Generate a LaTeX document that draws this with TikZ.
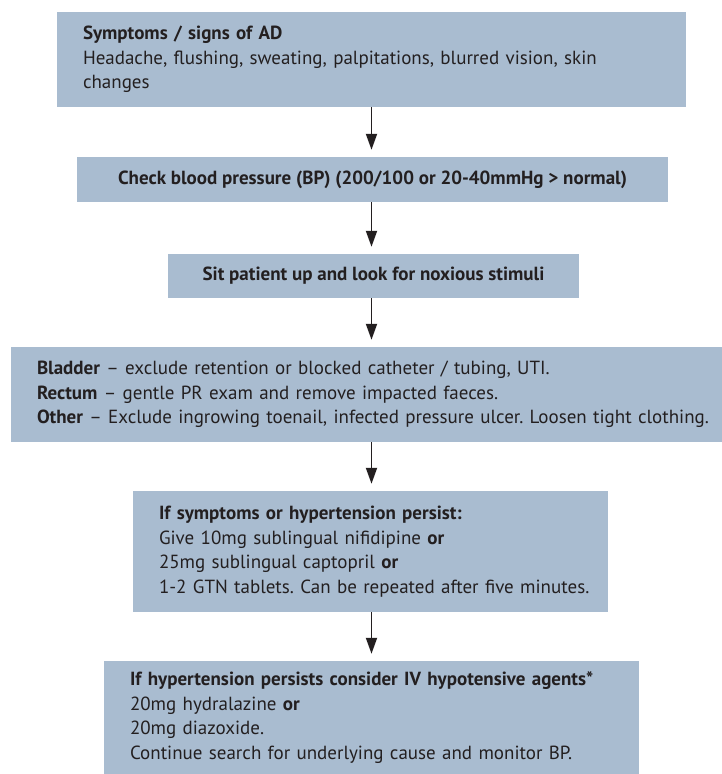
\documentclass[tikz,border=0pt]{standalone}
\usepackage{fontspec}
\setmainfont{PT Sans}
\usetikzlibrary{arrows.meta}
\definecolor{ink}{HTML}{231F20}
\definecolor{boxblue}{HTML}{A9BCD0}
\newcommand{\lines}[1]{\begin{tabular}{@{}l@{}}#1\end{tabular}}
\tikzset{
  stepbox/.style={fill=boxblue,text=ink,inner xsep=26pt,inner ysep=0pt,
    font=\fontsize{19}{24.5}\selectfont\frenchspacing},
  listbox/.style={stepbox,align=left},
  flow/.style={-{Triangle[length=16pt,width=11pt]},draw=ink,line width=1.8pt,shorten >=7pt},
}

\begin{document}
\begin{tikzpicture}[x=1pt,y=-1pt]
  % pixel grid of the page, y grows downwards
  \useasboundingbox (0,0) rectangle (722,774);
  \coordinate (spine) at (371.5,0);

  \node[listbox,text width=577pt,minimum height=95pt] (signs) at (371.5,59.5)
    {\lines{\textbf{Symptoms / signs of AD}\\
     Headache, flushing, sweating, palpitations, blurred vision, skin\\
     changes}};
  \node[stepbox,minimum width=591pt,minimum height=45pt] (bp) at (372.5,179.5)
    {\textbf{Check blood pressure (BP) (200/100 or 20-40mmHg > normal)}};
  \node[stepbox,minimum width=411pt,minimum height=44pt] (sit) at (373.5,276)
    {\textbf{Sit patient up and look for noxious stimuli}};
  \node[listbox,text width=659pt,minimum height=95pt] (stimuli) at (366.5,394.5)
    {\lines{\textbf{Bladder} -- exclude retention or blocked catheter / tubing, UTI.\\
     \textbf{Rectum} -- gentle PR exam and remove impacted faeces.\\
     \textbf{Other} -- Exclude ingrowing toenail, infected pressure ulcer. Loosen tight clothing.}};
  \node[listbox,text width=423pt,minimum height=121pt] (oral) at (370.5,551.5)
    {\lines{\textbf{If symptoms or hypertension persist:}\\
     Give 10mg sublingual nifidipine \textbf{or}\\
     25mg sublingual captopril \textbf{or}\\
     1-2 GTN tablets. Can be repeated after five minutes.}};
  \node[listbox,text width=483pt,minimum height=113pt] (iv) at (371.5,717.5)
    {\lines{\textbf{If hypertension persists consider IV hypotensive agents*}\\
     20mg hydralazine \textbf{or}\\
     20mg diazoxide.\\
     Continue search for underlying cause and monitor BP.}};

  \foreach \a/\b in {signs/bp,bp/sit,sit/stimuli,stimuli/oral,oral/iv}
    \draw[flow] (\a.south -| spine) -- (\b.north -| spine);
\end{tikzpicture}
\end{document}
